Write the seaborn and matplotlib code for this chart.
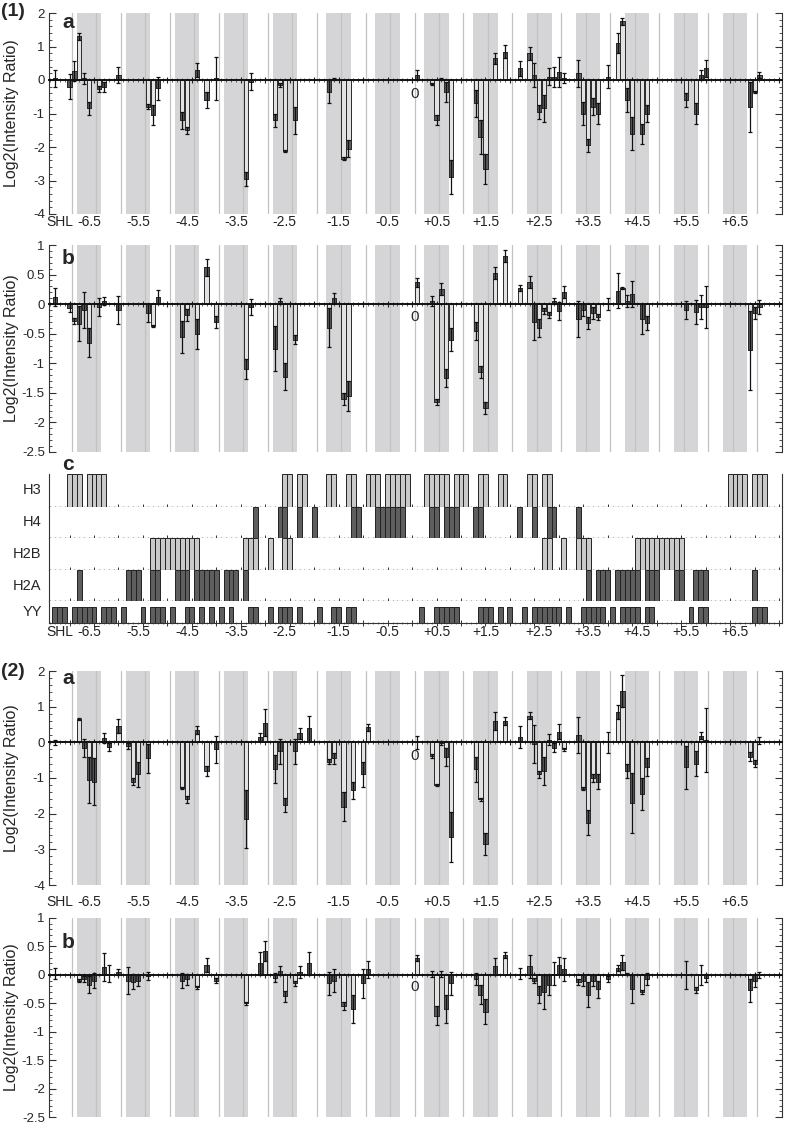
import numpy as np
import pandas as pd
import matplotlib
matplotlib.use("Agg")
import matplotlib.pyplot as plt
import matplotlib.transforms as mtransforms
from matplotlib.ticker import MultipleLocator, FuncFormatter
import seaborn as sns

# ---------------- data (bp position relative to dyad) ----------------
pos_1 = [-73, -70, -69, -68, -67, -66, -64, -63, -60, -54, -53, -52, -47, -46, -44, -42, -40,
         -34, -33, -28, -27, -26, -24, -17, -16, -14, -13,
         1, 4, 5, 6, 7, 8, 13, 14, 15, 17, 19, 22, 24, 25, 26, 27, 28, 29, 30, 31,
         34, 35, 36, 37, 38, 40, 42, 43, 44, 45, 47, 48, 56, 58, 59, 60, 69, 70, 71]

val_1a = [0.05, -0.2, 0.28, 1.3, 0.05, -0.85, -0.27, -0.22, 0.15, -0.8, -1.05, -0.25, -1.2, -1.5, 0.3, -0.6, 0.05,
          -2.95, -0.05, -1.2, -0.15, -2.13, -1.2, -0.35, 0.03, -2.35, -2.05,
          0.15, -0.12, -1.2, 0.03, -0.35, -2.9, -0.7, -1.7, -2.65, 0.65, 0.85, 0.35, 0.8, 0.15, -0.95, -0.85, 0.1, 0.1, 0.25, 0.05,
          0.2, -1.0, -1.95, -0.8, -1.0, 0.1, 1.1, 1.75, -0.6, -1.6, -1.6, -1.0, -0.6, -1.0, 0.15, 0.35, -0.8, -0.35, 0.15]
err_1a = [0.25, 0.38, 0.3, 0.1, 0.17, 0.2, 0.1, 0.15, 0.25, 0.08, 0.3, 0.35, 0.25, 0.1, 0.2, 0.25, 0.65,
          0.2, 0.25, 0.2, 0.05, 0.03, 0.4, 0.35, 0.02, 0.05, 0.25,
          0.15, 0.03, 0.15, 0.03, 0.3, 0.5, 0.4, 0.5, 0.45, 0.17, 0.18, 0.22, 0.2, 0.35, 0.2, 0.4, 0.25, 0.3, 0.45, 0.15,
          0.4, 0.35, 0.2, 0.25, 0.3, 0.35, 0.3, 0.1, 0.35, 0.5, 0.3, 0.25, 0.2, 0.3, 0.15, 0.25, 0.75, 0.03, 0.1]

val_1b = [0.12, -0.06, -0.29, -0.33, -0.1, -0.65, -0.05, 0.05, -0.1, -0.15, -0.37, 0.12, -0.55, -0.18, -0.5, 0.62, -0.3,
          -1.1, -0.05, -0.75, 0.05, -1.23, -0.6, -0.4, 0.1, -1.6, -1.55,
          0.37, 0.05, -1.65, 0.25, -1.25, -0.6, -0.45, -1.15, -1.75, 0.52, 0.82, 0.27, 0.38, -0.3, -0.4, -0.12, -0.18, 0.05, -0.12, 0.2,
          -0.25, -0.1, -0.32, -0.15, -0.22, 0.0, 0.23, 0.27, 0.05, 0.17, -0.25, -0.32, -0.1, -0.13, -0.05, -0.05, -0.78, -0.15, -0.05]
err_1b = [0.15, 0.08, 0.05, 0.3, 0.3, 0.25, 0.15, 0.07, 0.23, 0.15, 0.02, 0.12, 0.27, 0.1, 0.25, 0.15, 0.1,
          0.17, 0.13, 0.38, 0.05, 0.23, 0.07, 0.33, 0.08, 0.1, 0.25,
          0.08, 0.08, 0.05, 0.1, 0.15, 0.2, 0.15, 0.1, 0.1, 0.1, 0.1, 0.05, 0.1, 0.3, 0.15, 0.05, 0.05, 0.05, 0.15, 0.1,
          0.3, 0.1, 0.1, 0.1, 0.05, 0.1, 0.3, 0.02, 0.1, 0.22, 0.25, 0.12, 0.15, 0.2, 0.2, 0.35, 0.67, 0.1, 0.12]

pos_2 = [-73, -68, -67, -66, -65, -63, -62, -60, -58, -57, -56, -54, -47, -46, -44, -42, -40,
         -34, -31, -30, -28, -27, -26, -24, -23, -21, -17, -16, -14, -12, -10, -9,
         1, 4, 5, 6, 7, 8, 13, 14, 15, 17, 19, 22, 24, 25, 26, 27, 28, 29, 30, 31,
         34, 35, 36, 37, 38, 40, 42, 43, 44, 45, 47, 48, 56, 58, 59, 60, 69, 70, 71]

val_2a = [0.0, 0.65, -0.15, -1.05, -1.1, 0.12, -0.13, 0.45, -0.1, -1.1, -0.9, -0.45, -1.28, -1.6, 0.35, -0.8, -0.2,
          -2.15, 0.15, 0.55, -0.75, -0.25, -1.75, -0.25, 0.25, 0.4, -0.55, -0.45, -1.8, -1.35, -0.9, 0.42,
          0.0, -0.38, -1.2, -0.02, -0.4, -2.65, -0.75, -1.6, -2.85, 0.6, 0.6, 0.15, 0.75, -0.05, -0.9, -0.8, 0.07, -0.15, 0.3, -0.2,
          0.2, -1.3, -2.25, -1.0, -1.1, 0.0, 0.85, 1.45, -0.8, -1.7, -1.45, -0.7, -0.7, -0.6, 0.18, 0.07, -0.4, -0.6, 0.05]
err_2a = [0.07, 0.03, 0.25, 0.65, 0.65, 0.15, 0.1, 0.2, 0.08, 0.1, 0.35, 0.4, 0.03, 0.1, 0.12, 0.15, 0.38,
          0.8, 0.12, 0.38, 0.4, 0.35, 0.2, 0.35, 0.15, 0.35, 0.07, 0.15, 0.4, 0.25, 0.35, 0.1,
          0.18, 0.05, 0.03, 0.05, 0.25, 0.7, 0.35, 0.05, 0.3, 0.25, 0.12, 0.3, 0.1, 0.53, 0.1, 0.4, 0.15, 0.12, 0.2, 0.05,
          0.5, 0.05, 0.35, 0.1, 0.2, 0.3, 0.2, 0.45, 0.2, 0.85, 0.45, 0.25, 0.6, 0.35, 0.1, 0.9, 0.12, 0.1, 0.1]

val_2b = [0.02, -0.1, -0.07, -0.17, -0.1, 0.14, 0.02, 0.05, -0.1, -0.12, -0.1, -0.02, -0.1, -0.08, -0.22, 0.17, -0.1,
          -0.5, 0.2, 0.42, -0.05, 0.07, -0.38, -0.15, 0.05, 0.2, -0.15, -0.1, -0.55, -0.6, -0.15, 0.1,
          0.3, 0.02, -0.72, 0.02, -0.6, -0.15, -0.07, -0.35, -0.65, 0.15, 0.35, 0.02, 0.15, -0.1, -0.35, -0.3, -0.18, 0.02, 0.17, 0.1,
          -0.12, -0.1, -0.35, -0.1, -0.25, -0.07, 0.12, 0.22, 0.02, -0.25, -0.3, -0.07, 0.0, -0.27, 0.0, -0.05, -0.27, -0.1, 0.0]
err_2b = [0.1, 0.03, 0.05, 0.15, 0.13, 0.25, 0.15, 0.05, 0.23, 0.13, 0.1, 0.07, 0.13, 0.1, 0.03, 0.12, 0.05,
          0.03, 0.2, 0.17, 0.08, 0.08, 0.1, 0.05, 0.1, 0.2, 0.2, 0.2, 0.07, 0.25, 0.25, 0.15,
          0.05, 0.05, 0.17, 0.05, 0.25, 0.2, 0.1, 0.17, 0.22, 0.15, 0.05, 0.1, 0.2, 0.05, 0.15, 0.3, 0.18, 0.2, 0.15, 0.2,
          0.05, 0.1, 0.22, 0.1, 0.15, 0.05, 0.05, 0.13, 0.02, 0.25, 0.03, 0.1, 0.25, 0.05, 0.17, 0.07, 0.2, 0.12, 0.05]

# histone contact / YY tracks (panel c)
contact_H3 = [-70, -69, -68, -66, -65, -64, -63, -26, -25, -23, -22, -17, -16, -13, -12, -9, -8, -7,
              -5, -4, -3, -2, -1, 3, 4, 5, 6, 7, 9, 10, 11, 14, 15, 18, 19, 24, 25, 27, 28,
              65, 66, 67, 68, 70, 71, 72]
contact_H4 = [-32, -27, -26, -23, -20, -12, -11, -7, -6, -5, -4, -3, -2, 4, 5, 7, 8, 9, 13, 14, 22, 25, 28, 29, 34]
contact_H2B = [-53, -52, -51, -50, -49, -48, -47, -46, -45, -44, -34, -33, -32, -29, -26, -25,
               27, 28, 31, 34, 35, 36, 46, 47, 48, 49, 50, 51, 52, 53, 54, 55]
contact_H2A = [-68, -58, -57, -56, -53, -52, -48, -47, -46, -44, -43, -42, -41, -40, -38, -37, -36, -34,
               36, 38, 39, 40, 42, 43, 44, 45, 46, 48, 49, 50, 54, 55, 58, 59, 60, 70]
contact_YY = [-73, -72, -71, -69, -68, -67, -66, -65, -63, -62, -61, -59, -55, -53, -52, -51, -49, -46, -45,
              -43, -41, -39, -37, -33, -32, -29, -27, -26, -25, -23, -19, -16, -15, -13, -12,
              2, 5, 6, 7, 8, 9, 14, 15, 16, 18, 20, 23, 25, 26, 27, 28, 29, 30, 32, 35, 36, 37, 38, 39,
              41, 43, 44, 45, 46, 48, 49, 57, 59, 60, 70, 71, 72]
track_names = ["H3", "H4", "H2B", "H2A", "YY"]

shl_labels = ["-6.5", "-5.5", "-4.5", "-3.5", "-2.5", "-1.5", "-0.5",
              "+0.5", "+1.5", "+2.5", "+3.5", "+4.5", "+5.5", "+6.5"]
band_starts = [-68.5, -58.5, -48.5, -38.5, -28.5, -17.5, -7.5, 2.5, 12.5, 23.5, 33.5, 43.5, 53.5, 63.5]

# ---------------- style ----------------
sns.set_style("ticks")
plt.rcParams['font.family'] = ['Liberation Sans', 'DejaVu Sans']
plt.rcParams['axes.unicode_minus'] = False

W, H = 787, 1125
XMIN, XMAX = -74.2, 75.6
BAND = '#d5d5d7'
GRID = '#c2c2c2'
BAR_FILL = '#e2e2e2'
BOX = '#5c5c5c'
EDGE = '#2a2a2a'
DARK = '#5e5e5e'
LIGHT = '#c9c9c9'

fig = plt.figure(figsize=(W / 100, H / 100), dpi=100)


def rect(top, bottom, left=49, right=782):
    return [left / W, 1 - bottom / H, (right - left) / W, (bottom - top) / H]


def fmt(v, _):
    return ('%g' % v)


def bar_panel(top, bottom, pos, val, err, ylim, major, minor, zero_off):
    ax = fig.add_axes(rect(top, bottom))
    ax.set_xlim(XMIN, XMAX)
    ax.set_ylim(*ylim)
    for s in band_starts:
        ax.axvspan(s, s + 5, color=BAND, lw=0, zorder=0)
    for k in range(-14, 15):
        ax.axvline(0.5 + 5 * k, color=GRID, lw=0.9, zorder=0.4)
    df = pd.DataFrame({'pos': pos, 'val': val})
    sns.barplot(data=df, x='pos', y='val', native_scale=True, orient='x', color=BAR_FILL,
                saturation=1, edgecolor=EDGE, linewidth=0.7, width=0.85, errorbar=None,
                ax=ax, zorder=2)
    v = np.asarray(val, float)
    e = np.asarray(err, float)
    inner = np.sign(v) * np.minimum(e, np.abs(v))
    ax.bar(pos, -inner, bottom=v, width=0.85, color=BOX, edgecolor=EDGE, linewidth=0.7, zorder=2.1)
    ax.errorbar(pos, v, yerr=e, fmt='none', ecolor='#111111', elinewidth=0.9,
                capsize=1.6, capthick=0.9, zorder=2.2)
    ax.set_xlim(XMIN, XMAX)
    ax.set_ylim(*ylim)
    ax.set_xlabel('')
    ax.set_ylabel('')
    ax.spines['top'].set_visible(False)
    ax.spines['bottom'].set_position(('data', 0))
    ax.spines['bottom'].set_linewidth(1.4)
    ax.spines['bottom'].set_color('#111111')
    ax.spines['bottom'].set_zorder(2.5)
    for side in ('left', 'right'):
        ax.spines[side].set_linewidth(0.8)
        ax.spines[side].set_color('#333333')
    ax.xaxis.set_major_locator(MultipleLocator(5))
    ax.xaxis.set_minor_locator(MultipleLocator(1))
    ax.tick_params(axis='x', which='major', direction='inout', length=5, width=0.8,
                   labelbottom=False, color='#222222')
    ax.tick_params(axis='x', which='minor', direction='inout', length=3, width=0.6, color='#444444')
    ax.yaxis.set_major_locator(MultipleLocator(major))
    ax.yaxis.set_minor_locator(MultipleLocator(minor))
    ax.yaxis.set_major_formatter(FuncFormatter(fmt))
    ax.tick_params(axis='y', which='both', direction='in', left=True, right=True,
                   color='#333333', labelsize=9.5)
    ax.tick_params(axis='y', which='major', length=5, width=0.8, pad=3)
    ax.tick_params(axis='y', which='minor', length=2.5, width=0.6)
    ax.annotate('0', xy=(0.6, 0), xytext=(0, zero_off), textcoords='offset points',
                ha='center', va='center', fontsize=11)
    fig.text(12 / W, 1 - (top + bottom) / 2 / H, 'Log2(Intensity Ratio)', rotation=90,
             ha='center', va='center', fontsize=11.5)
    return ax


def shl_row(ax, ypx):
    tr = mtransforms.blended_transform_factory(ax.transData, fig.transFigure)
    for s, lab in zip(band_starts, shl_labels):
        ax.text(s + 2.5, 1 - ypx / H, lab, transform=tr, ha='center', va='center',
                fontsize=10, color='#222222')
    ax.text(-72.0, 1 - ypx / H, 'SHL', transform=tr, ha='center', va='center',
            fontsize=10, color='#222222')


# ---------------- (1) ----------------
ax1a = bar_panel(13, 214, pos_1, val_1a, err_1a, (-4, 2), 1, 0.2, -10)
shl_row(ax1a, 222)
ax1b = bar_panel(245, 452, pos_1, val_1b, err_1b, (-2.5, 1), 0.5, 0.1, -9)

# panel c: contact tracks
rows = [(474, 507), (507, 538), (538, 570), (570, 601), (601, 623)]
tracks = [contact_H3, contact_H4, contact_H2B, contact_H2A, contact_YY]
colors = [LIGHT, DARK, LIGHT, DARK, DARK]
heights = [1, 1, 1, 1, 0.73]
axc = []
for (t, b), name, tr_pos, col, hgt in zip(rows, track_names, tracks, colors, heights):
    ax = fig.add_axes(rect(t, b))
    ax.set_xlim(XMIN, XMAX)
    ax.set_ylim(0, 1)
    ax.bar(tr_pos, hgt, width=1.0, bottom=0, color=col, edgecolor='#222222', linewidth=0.7, zorder=2)
    ax.set_xlim(XMIN, XMAX)
    ax.spines['top'].set_visible(False)
    for side in ('left', 'right', 'bottom'):
        ax.spines[side].set_linewidth(0.8)
        ax.spines[side].set_color('#333333')
    ax.set_yticks([])
    ax.xaxis.set_major_locator(MultipleLocator(5))
    ax.xaxis.set_minor_locator(MultipleLocator(1))
    ax.tick_params(axis='x', which='major', direction='inout', length=4, width=0.7,
                   labelbottom=False, color='#333333')
    ax.tick_params(axis='x', which='minor', direction='inout', length=2, width=0.5, color='#555555')
    ax.text(-0.01, 0.5, name, transform=ax.transAxes, ha='right', va='center', fontsize=10.5)
    axc.append(ax)
shl_row(axc[-1], 632)

# ---------------- (2) ----------------
ax2a = bar_panel(671, 885, pos_2, val_2a, err_2a, (-4, 2), 1, 0.2, -10)
shl_row(ax2a, 902)
ax2b = bar_panel(918, 1117, pos_2, val_2b, err_2b, (-2.5, 1), 0.5, 0.1, -9)

# panel labels
fig.text(1 / W, 1 - 11 / H, '(1)', fontsize=14, fontweight='bold', ha='left', va='center')
fig.text(1 / W, 1 - 672 / H, '(2)', fontsize=14, fontweight='bold', ha='left', va='center')
for lab, ypx in [('a', 22), ('b', 258), ('c', 465), ('a', 678), ('b', 942)]:
    fig.text(62 / W, 1 - ypx / H, lab, fontsize=15, fontweight='bold', ha='left', va='center')

fig.savefig('out.png', dpi=100)
